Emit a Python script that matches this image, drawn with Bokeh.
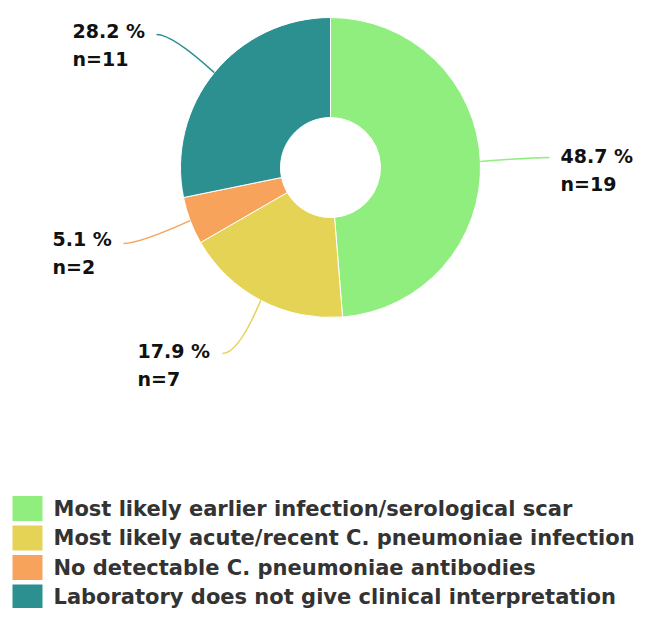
import math
from bokeh.plotting import figure
from bokeh.models import Range1d, ColumnDataSource
from bokeh.embed import file_html
from bokeh.resources import INLINE
from bokeh.core.properties import value

# ---- data ----
categories = [
    "Most likely earlier infection/serological scar",
    "Most likely acute/recent C. pneumoniae infection",
    "No detectable C. pneumoniae antibodies",
    "Laboratory does not give clinical interpretation",
]
counts = [19, 7, 2, 11]
colors = ["#90ee7e", "#e4d354", "#f7a35c", "#2b908f"]

# ---- layout helpers (figure coords in px, y up) ----
W, H = 638, 608
def X(sx): return sx
def Y(sy): return H - sy

CX, CY = X(330), Y(167)
R_OUT, R_IN = 150, 50

# label layout: (text left x, first line y, connector end x, connector end y) in page px
label_pos = [
    (560, 155, 549, 157),
    (137, 350, 222, 353),
    (52, 238, 123, 243),
    (72, 30, 156, 34),
]

total = sum(counts)
fracs = [c / total for c in counts]
cum = [0]
for f in fracs:
    cum.append(cum[-1] + f)
start = [math.pi / 2 - 2 * math.pi * cum[i] for i in range(len(counts))]
end = [math.pi / 2 - 2 * math.pi * cum[i + 1] for i in range(len(counts))]
pct = [f"{100 * f:.1f} %" for f in fracs]
ns = [f"n={c}" for c in counts]

p = figure(width=W, height=H, output_backend="svg", toolbar_location=None,
           x_range=Range1d(0, W), y_range=Range1d(0, H),
           x_axis_location=None, y_axis_location=None, min_border=0)
p.grid.visible = False
p.outline_line_color = None
p.background_fill_color = "white"

src = ColumnDataSource(dict(start=start, end=end, color=colors))
p.annular_wedge(x=CX, y=CY, inner_radius=R_IN, outer_radius=R_OUT,
                start_angle="start", end_angle="end", direction="clock",
                fill_color="color", line_color="white", line_width=1, source=src)

# connectors and labels
for i in range(len(counts)):
    mid = math.pi / 2 - 2 * math.pi * (cum[i] + cum[i + 1]) / 2
    x0 = CX + R_OUT * math.cos(mid)
    y0 = CY + R_OUT * math.sin(mid)
    tx, ty, ex, ey = label_pos[i]
    x1, y1 = X(ex), Y(ey)
    dx = 16 if x1 < x0 else -16
    p.quadratic(x0=[x0], y0=[y0], x1=[x1], y1=[y1], cx=[x1 + dx], cy=[y1],
                line_color=colors[i], line_width=1.5)
    p.text(x=[X(tx)], y=[Y(ty)], text=[pct[i]], text_font=value("DejaVu Sans"),
           text_font_style="bold", text_font_size="19px", text_color="#111111",
           text_baseline="middle", text_align="left")
    p.text(x=[X(tx)], y=[Y(ty + 28)], text=[ns[i]], text_font=value("DejaVu Sans"),
           text_font_style="bold", text_font_size="19px", text_color="#111111",
           text_baseline="middle", text_align="left")

# legend
leg_y = [Y(508 + 29.5 * i) for i in range(len(categories))]
p.rect(x=[X(27)] * len(categories), y=leg_y, width=30, height=25,
       fill_color=colors, line_color=None)
p.text(x=[X(53)] * len(categories), y=leg_y, text=categories,
       text_font=value("DejaVu Sans"), text_font_style="bold",
       text_font_size="21px", text_color="#333333",
       text_baseline="middle", text_align="left")

open("out.html", "w").write(file_html(p, INLINE))
